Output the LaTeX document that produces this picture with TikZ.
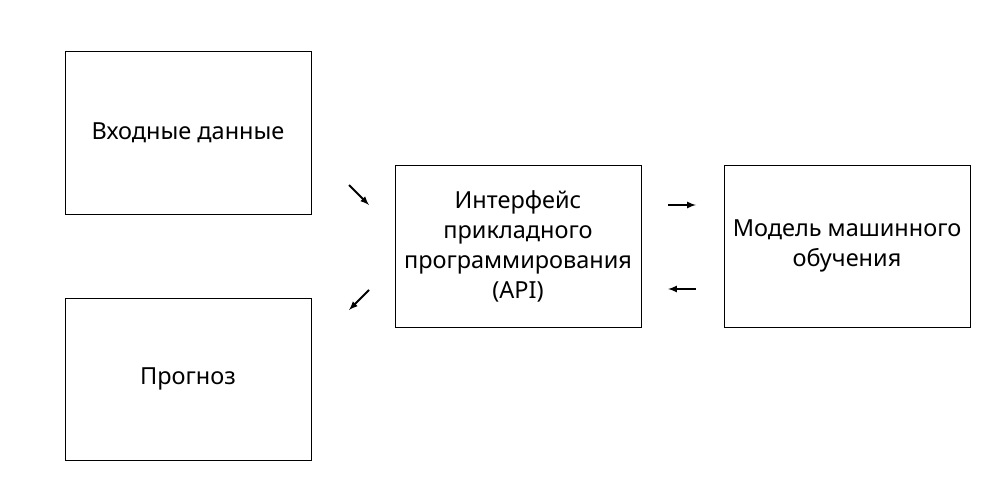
\documentclass[tikz,border=0pt]{standalone}
\usepackage{fontspec}
\setmainfont{Noto Sans}
\usetikzlibrary{positioning, arrows}

\begin{document}
\begin{tikzpicture}[x=1pt,y=-1pt,
  box/.style={draw,line width=1pt,minimum width=246pt,minimum height=162pt,align=center,
    font=\fontsize{23.5}{30}\selectfont},
  flow/.style={->,>=latex,line width=2pt}]
\useasboundingbox (0,0) rectangle (1000,500);

\node[box] (input) at (188,133) {Входные данные};%les blocs
\node[box] (forecast) at (188,379) {Прогноз};
\node[box] (api) at (518,246) {Интерфейс\\прикладного\\программирования\\(API)};
\node[box] (model) at (847,246) {Модель машинного\\обучения};

\coordinate (a1) at (349,185); \coordinate (a2) at (369,205);
\coordinate (b1) at (369,290); \coordinate (b2) at (349,310);
\coordinate (c1) at (668,205); \coordinate (c2) at (696,205);
\coordinate (d1) at (696,289); \coordinate (d2) at (668,289);

\draw[flow] (a1) -- (a2);%les fleches
\draw[flow] (b1) -- (b2);
\draw[flow] (c1) -- (c2);
\draw[flow] (d1) -- (d2);
\end{tikzpicture}
\end{document}
